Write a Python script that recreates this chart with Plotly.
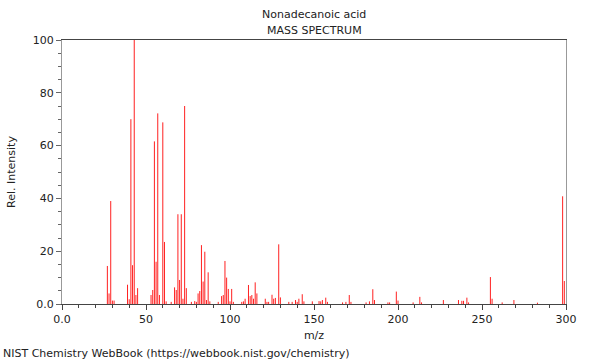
import plotly.graph_objects as go

mz = [27, 28, 29, 30, 31, 39, 40, 41, 42, 43, 44, 45, 53, 54, 55, 56, 57, 58, 60, 61, 62, 65,
      67, 68, 69, 70, 71, 72, 73, 74, 77, 79, 80, 81, 82, 83, 84, 85, 86, 87, 88, 93, 95, 96,
      97, 98, 99, 100, 101, 102, 107, 108, 109, 111, 112, 113, 114, 115, 116, 121, 122, 123,
      125, 126, 127, 129, 130, 135, 137, 139, 140, 141, 143, 144, 149, 153, 154, 155, 157, 158,
      167, 169, 171, 172, 181, 183, 185, 186, 194, 195, 199, 200, 209, 213, 214, 227, 236, 238,
      239, 241, 242, 255, 256, 262, 269, 283, 298, 299]
intensity = [14.4, 4, 39, 1.3, 1.3, 7.3, 1.8, 70, 14.7, 100, 3.4, 6, 3.4, 5.3, 61.6, 16, 72.2, 3.4,
             68.8, 23.5, 1, 0.8, 6.3, 5.3, 34, 9.1, 34, 2, 75, 6, 0.8, 1.1, 0.8, 4, 4.9, 22.3, 8.5,
             19.8, 1.5, 12, 1, 0.8, 3, 3.4, 16.3, 10, 5.7, 1, 5.7, 0.8, 0.8, 1, 2, 7.2, 3, 3.4, 2,
             8.2, 4, 2, 0.8, 0.8, 3.5, 2, 2.3, 22.6, 2.5, 0.8, 0.8, 1.5, 0.8, 2, 3.7, 1, 1, 1.1, 1,
             1.5, 2.4, 0.8, 0.6, 0.8, 3.4, 0.8, 0.6, 1, 5.6, 1.5, 0.6, 0.6, 4.7, 1.3, 0.6, 2.7, 0.6,
             1.5, 1.5, 1.2, 1.2, 2.4, 0.6, 10.2, 2, 0.6, 1.5, 0.5, 40.8, 8.7]

x_tickvals = [0, 50, 100, 150, 200, 250, 300]
x_ticktext = ["0.0", "50", "100", "150", "200", "250", "300"]
y_tickvals = [0, 20, 40, 60, 80, 100]
y_ticktext = ["0.0", "20", "40", "60", "80", "100"]

FONT = "DejaVu Sans"

# stick spectrum: one vertical segment per peak, built from the data lists
seg_x, seg_y = [], []
for m, v in zip(mz, intensity):
    seg_x += [m, m, None]
    seg_y += [0, v, None]

fig = go.Figure()
fig.add_trace(go.Scatter(x=seg_x, y=seg_y, mode="lines",
                         line=dict(color="#ff2020", width=1), hoverinfo="skip"))

fig.update_layout(
    width=600, height=360,
    margin=dict(l=62, r=34, t=40, b=56, autoexpand=False),
    paper_bgcolor="white", plot_bgcolor="white",
    showlegend=False,
    font=dict(family=FONT, size=11, color="#222"),
)
fig.update_xaxes(
    range=[0, 300], showgrid=False, zeroline=False,
    tickvals=x_tickvals, ticktext=x_ticktext,
    ticks="outside", ticklen=5, tickcolor="#444", tickwidth=1,
    showline=True, linecolor="#444", linewidth=1, mirror=True,
    minor=dict(ticks="outside", dtick=10, ticklen=3, tickcolor="#444", showgrid=False),
    title=dict(text="m/z", font=dict(family=FONT, size=11, color="#222"), standoff=6),
    tickfont=dict(family=FONT, size=11, color="#222"),
)
fig.update_yaxes(
    range=[0, 100], showgrid=False, zeroline=False,
    tickvals=y_tickvals, ticktext=y_ticktext,
    ticks="outside", ticklen=5, tickcolor="#666", tickwidth=1,
    showline=True, linecolor="#999", linewidth=1, mirror=True,
    minor=dict(ticks="outside", dtick=5, ticklen=3, tickcolor="#666", showgrid=False),
    title=dict(text="Rel. Intensity", font=dict(family=FONT, size=11, color="#222"), standoff=14),
    tickfont=dict(family=FONT, size=11, color="#222"),
)
fig.add_annotation(text="Nonadecanoic acid", xref="paper", yref="paper", x=0.5, y=1,
                   yshift=26, showarrow=False, font=dict(family=FONT, size=11, color="#222"),
                   xanchor="center", yanchor="middle")
fig.add_annotation(text="MASS SPECTRUM", xref="paper", yref="paper", x=0.5, y=1,
                   yshift=10, showarrow=False, font=dict(family=FONT, size=11, color="#222"),
                   xanchor="center", yanchor="middle")
fig.add_annotation(text="NIST Chemistry WebBook (https://webbook.nist.gov/chemistry)",
                   xref="paper", yref="paper", x=-62/504, y=0, yshift=-49, xshift=1,
                   showarrow=False, font=dict(family=FONT, size=11, color="#222"),
                   xanchor="left", yanchor="middle")

fig.write_html("out.html", config={"displayModeBar": False},
               post_script="document.body.style.margin='0';document.body.style.overflow='hidden';")
